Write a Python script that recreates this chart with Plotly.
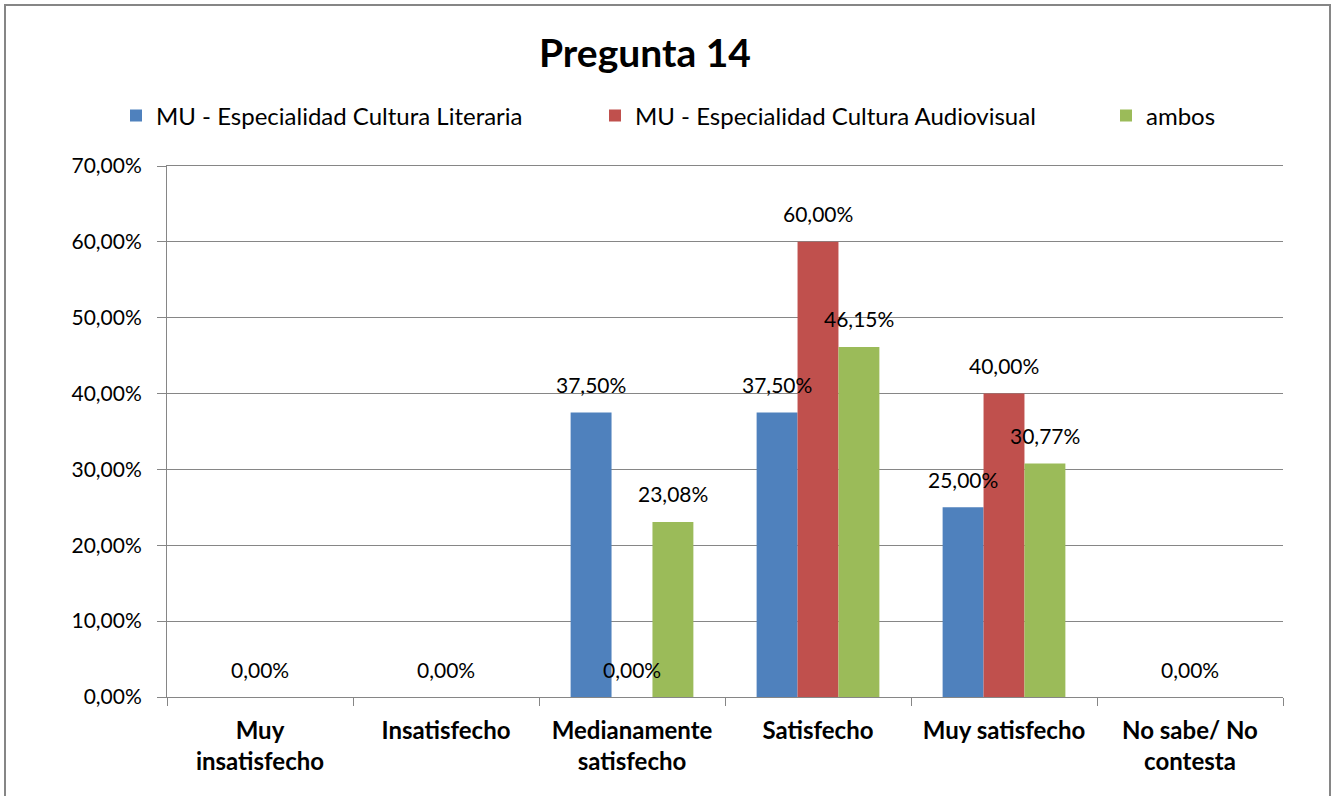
import plotly.graph_objects as go

categories = ["Muy<br>insatisfecho", "Insatisfecho", "Medianamente<br>satisfecho",
              "Satisfecho", "Muy satisfecho", "No sabe/ No<br>contesta"]
series_names = ["MU - Especialidad Cultura Literaria",
                "MU - Especialidad Cultura Audiovisual",
                "ambos"]
literaria = [None, None, 0.375, 0.375, 0.25, None]
audiovisual = [0.0, 0.0, 0.0, 0.60, 0.40, 0.0]
ambos = [None, None, 0.2308, 0.4615, 0.3077, None]
colors = ["#4F81BD", "#C0504D", "#9BBB59"]
y_ticks = [0, 0.1, 0.2, 0.3, 0.4, 0.5, 0.6, 0.7]

FONT = "Lato"
W, H = 1335, 796
L, R, T, B = 167, 52, 166, 99
pw, ph = W - L - R, H - T - B
BARGAP = 0.34
n_series = 3
cat_px = pw / len(categories)
bar_px = cat_px * (1 - BARGAP) / n_series


def px_x(px):
    return (px - L) / pw


def px_y(py):
    return 1 - (py - T) / ph


legend_ids = ["legend", "legend2", "legend3"]
legend_x = [116, 595, 1106]

fig = go.Figure()
annotations = []
series = [literaria, audiovisual, ambos]
for i, (name, vals, col) in enumerate(zip(series_names, series, colors)):
    fig.add_trace(go.Bar(
        x=categories, y=vals, name=name, marker=dict(color=col, line=dict(width=0)),
        legend=legend_ids[i],
    ))
    for c, v in zip(categories, vals):
        if v is None:
            continue
        annotations.append(dict(
            x=c, y=v, xref="x", yref="y", text=f"{v * 100:.2f}%".replace(".", ","),
            showarrow=False, xanchor="center", yanchor="middle",
            xshift=(i - (n_series - 1) / 2) * bar_px, yshift=28,
            font=dict(family=FONT, size=21, color="#000000"),
        ))

layout_legends = {}
for i, lid in enumerate(legend_ids):
    layout_legends[lid] = dict(
        orientation="h", x=px_x(legend_x[i]), xanchor="left", y=px_y(116), yanchor="middle",
        font=dict(family=FONT, size=24, color="#000000"),
        itemwidth=30, bgcolor="rgba(0,0,0,0)",
    )

fig.update_layout(
    width=W, height=H,
    margin=dict(l=L, r=R, t=T, b=B, autoexpand=False),
    paper_bgcolor="white", plot_bgcolor="white",
    separators=",.",
    barmode="group", bargap=BARGAP, bargroupgap=0,
    font=dict(family=FONT, size=20, color="#000000"),
    title=dict(text="<b>Pregunta 14</b>", x=645 / W, xanchor="center",
               y=1 - 53 / H, yanchor="middle", yref="container",
               font=dict(family=FONT, size=39, color="#000000")),
    showlegend=True,
    xaxis=dict(showline=True, linecolor="#868686", linewidth=1, mirror=True,
               ticks="outside", tickson="boundaries", ticklen=8, tickcolor="#868686",
               ticklabelstandoff=12,
               tickfont=dict(family=FONT, size=24, color="#000000"),
               showgrid=False, fixedrange=True, automargin=False),
    yaxis=dict(range=[0, 0.7], tickvals=y_ticks, tickformat=".2%",
               showline=True, linecolor="#868686", linewidth=1,
               ticks="outside", ticklen=9, tickcolor="#868686",
               ticklabelstandoff=11,
               showgrid=True, gridcolor="#868686", gridwidth=1,
               zeroline=False, automargin=False,
               tickfont=dict(family=FONT, size=21, color="#000000"), fixedrange=True),
    annotations=annotations,
    shapes=[dict(type="rect", xref="paper", yref="paper",
                 x0=px_x(5), x1=px_x(1330), y0=px_y(805), y1=px_y(5),
                 line=dict(color="#868686", width=2), fillcolor="rgba(0,0,0,0)", layer="below")],
    **layout_legends,
)

fig.update_xaxes(tickvals=categories, ticktext=["<b>" + c + "</b>" for c in categories])

fig.write_html("out.html", config={"displayModeBar": False},
               post_script="document.body.style.margin='0px';")
